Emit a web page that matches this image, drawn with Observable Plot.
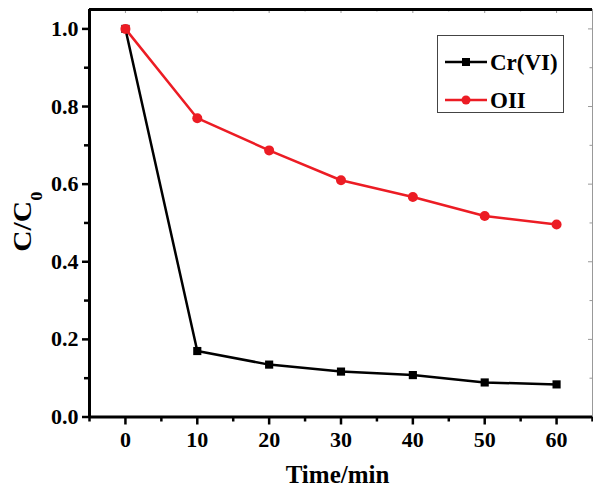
<!DOCTYPE html>
<html>
<head>
<meta charset="utf-8">
<script src="https://cdn.jsdelivr.net/npm/d3@7"></script>
<script src="https://cdn.jsdelivr.net/npm/@observablehq/plot@0.6"></script>
<style>
  html, body { margin: 0; padding: 0; background: #fff; }
  #wrap { position: relative; width: 593px; height: 487px; }
  #legend { position: absolute; left: 437px; top: 35px; width: 127px; height: 78px; box-sizing: border-box; border: 1px solid #444; background: #fff; }
</style>
</head>
<body>
<div id="wrap"><div id="legend"></div></div>
<script>
const time = [0, 10, 20, 30, 40, 50, 60];
const crVI = [1.0, 0.170, 0.135, 0.117, 0.108, 0.089, 0.084];
const oii  = [1.0, 0.770, 0.687, 0.610, 0.567, 0.518, 0.496];
const seriesNames = ["Cr(VI)", "OII"];
const seriesColors = ["#000000", "#ec1c24"];
const xTicks = [0, 10, 20, 30, 40, 50, 60];
const xMinor = [-5, 5, 15, 25, 35, 45, 55, 65];
const yTicks = [0.0, 0.2, 0.4, 0.6, 0.8, 1.0];
const yMinor = [0.1, 0.3, 0.5, 0.7, 0.9];
const xDomain = [-5, 65];
const yDomain = [0, 1.05];
const xTitle = "Time/min";

const crData = time.map((t, i) => ({t, v: crVI[i]}));
const oiiData = time.map((t, i) => ({t, v: oii[i]}));

const W = 593, H = 487;
const mL = 89, mT = 9, mR = 1, mB = 70.5;
const innerW = W - mL - mR, innerH = H - mT - mB;

const plot = Plot.plot({
  width: W, height: H,
  marginLeft: mL, marginTop: mT, marginRight: mR, marginBottom: mB,
  x: {domain: xDomain},
  y: {domain: yDomain},
  style: {fontFamily: "'Liberation Serif', 'Times New Roman', serif", fontWeight: "bold", fontSize: "22px", color: "#000", background: "#fff", overflow: "visible"},
  marks: [
    // inward light ticks on top & right
    Plot.tickX(xTicks, {x: d => d, insetBottom: innerH - 4, stroke: "#999", strokeWidth: 1}),
    Plot.tickX(xMinor, {x: d => d, insetBottom: innerH - 2.5, stroke: "#999", strokeWidth: 1}),
    Plot.tickY(yTicks, {y: d => d, insetLeft: innerW - 4, stroke: "#999", strokeWidth: 1}),
    Plot.tickY(yMinor, {y: d => d, insetLeft: innerW - 2.5, stroke: "#999", strokeWidth: 1}),
    // frame
    Plot.ruleX([xDomain[1]], {stroke: "#999", strokeWidth: 1}),
    Plot.ruleY([yDomain[1]], {stroke: "#000", strokeWidth: 3}),
    Plot.ruleX([xDomain[0]], {stroke: "#000", strokeWidth: 3}),
    Plot.ruleY([yDomain[0]], {stroke: "#000", strokeWidth: 3}),
    // axes
    Plot.axisX(xTicks, {tickSize: 8, tickPadding: 6, strokeWidth: 2.5, label: null, tickFormat: d3.format("d")}),
    Plot.axisX(xMinor, {tickSize: 5, strokeWidth: 2.5, label: null, tickFormat: () => ""}),
    Plot.axisY(yTicks, {tickSize: 7, tickPadding: 4, strokeWidth: 2.5, label: null, tickFormat: d3.format(".1f")}),
    Plot.axisY(yMinor, {tickSize: 5, strokeWidth: 2.5, label: null, tickFormat: () => ""}),
    // series
    Plot.line(crData, {x: "t", y: "v", stroke: seriesColors[0], strokeWidth: 2.5}),
    Plot.dot(crData, {x: "t", y: "v", symbol: "square", r: 4.6, fill: seriesColors[0]}),
    Plot.line(oiiData, {x: "t", y: "v", stroke: seriesColors[1], strokeWidth: 2.5}),
    Plot.dot(oiiData, {x: "t", y: "v", symbol: "circle", r: 5, fill: seriesColors[1]})
  ]
});

const svg = d3.select(plot);
const xs = plot.scale("x"), ys = plot.scale("y");
const cx = (xs.apply(xDomain[0]) + xs.apply(xDomain[1])) / 2;
const cy = (ys.apply(yDomain[0]) + ys.apply(yDomain[1])) / 2;

svg.append("text")
  .attr("x", cx - 3).attr("y", 483)
  .attr("text-anchor", "middle")
  .attr("font-size", 25).attr("font-weight", "bold")
  .attr("font-family", "'Liberation Serif', serif")
  .text(xTitle);

const yt = svg.append("text")
  .attr("transform", `translate(31,${cy + 9}) rotate(-90)`)
  .attr("text-anchor", "middle")
  .attr("font-size", 26).attr("font-weight", "bold")
  .attr("font-family", "'Liberation Serif', serif")
  .attr("textLength", 60).attr("lengthAdjust", "spacingAndGlyphs");
yt.append("tspan").text("C/C");
yt.append("tspan").attr("font-size", 16).attr("dy", 11).text("0");

document.getElementById("wrap").prepend(plot);

// legend
const leg = d3.select("#legend").append("svg").attr("width", 125).attr("height", 76)
  .style("display", "block");
seriesNames.forEach((name, i) => {
  const y = i === 0 ? 26 : 64;
  leg.append("line").attr("x1", 7).attr("x2", 49).attr("y1", y).attr("y2", y)
    .attr("stroke", seriesColors[i]).attr("stroke-width", 2.5);
  if (i === 0) {
    leg.append("rect").attr("x", 28 - 4).attr("y", y - 4).attr("width", 8).attr("height", 8).attr("fill", seriesColors[i]);
  } else {
    leg.append("circle").attr("cx", 28).attr("cy", y).attr("r", 4.5).attr("fill", seriesColors[i]);
  }
  leg.append("text").attr("x", 52).attr("y", y + 8)
    .attr("font-size", 23).attr("font-weight", "bold")
    .attr("font-family", "'Liberation Serif', serif")
    .text(name);
});
</script>
</body>
</html>
